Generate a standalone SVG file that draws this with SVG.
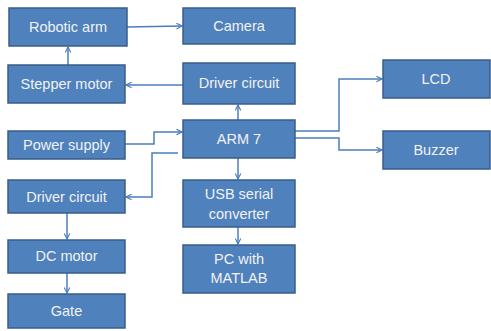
<svg xmlns="http://www.w3.org/2000/svg" width="491" height="331" viewBox="0 0 491 331">
<defs>
<style>
.box{fill:#4F81BD;stroke:#385D8A;stroke-width:1.5}
.t{font-family:"Liberation Sans",Arial,sans-serif;font-size:14.5px;fill:#F2F2F2;text-anchor:middle}
.c{fill:none;stroke:#4A7EBB;stroke-width:1.5;marker-end:url(#a)}
</style>
<marker id="a" viewBox="0 0 10 10" refX="9" refY="5" markerWidth="7" markerHeight="7" markerUnits="userSpaceOnUse" orient="auto">
<path d="M1,1 L9,5 L1,9" fill="none" stroke="#4A7EBB" stroke-width="1.6"/>
</marker>
</defs>
<rect width="491" height="331" fill="#FFFFFF"/>
<g id="connectors">
<path class="c" d="M127,27 L182,26"/>
<path class="c" d="M183,85 L126,85"/>
<path class="c" d="M68,65 L68,47"/>
<path class="c" d="M238,120 L238,105"/>
<path class="c" d="M295,131 L339,131 L339,79 L382,79"/>
<path class="c" d="M295,138 L339,138 L339,150 L382,150"/>
<path class="c" d="M125,144 L154,144 L154,132 L182,132"/>
<path class="c" d="M178,153 L152,153 L152,197 L126,197"/>
<path class="c" d="M67,213 L67,239"/>
<path class="c" d="M67,273 L67,293"/>
<path class="c" d="M238,158 L238,179"/>
<path class="c" d="M238,227 L238,244"/>
</g>
<g id="robotic-arm"><rect class="box" x="9" y="8" width="118" height="38"/><text class="t" x="68" y="32">Robotic arm</text></g>
<g id="camera"><rect class="box" x="183" y="8" width="112" height="36"/><text class="t" x="239" y="31">Camera</text></g>
<g id="stepper-motor"><rect class="box" x="8" y="65" width="117" height="38"/><text class="t" x="66.5" y="89">Stepper motor</text></g>
<g id="driver-circuit-top"><rect class="box" x="183" y="63" width="112" height="41"/><text class="t" x="239" y="88">Driver circuit</text></g>
<g id="arm7"><rect class="box" x="183" y="120" width="112" height="38"/><text class="t" x="239" y="144">ARM 7</text></g>
<g id="lcd"><rect class="box" x="383" y="60" width="107" height="38"/><text class="t" x="436" y="84">LCD</text></g>
<g id="buzzer"><rect class="box" x="383" y="131" width="107" height="38"/><text class="t" x="436" y="155">Buzzer</text></g>
<g id="power-supply"><rect class="box" x="8" y="131" width="117" height="28"/><text class="t" x="66.5" y="150">Power supply</text></g>
<g id="driver-circuit-left"><rect class="box" x="8" y="180" width="117" height="33"/><text class="t" x="66.5" y="202">Driver circuit</text></g>
<g id="dc-motor"><rect class="box" x="8" y="240" width="117" height="33"/><text class="t" x="66.5" y="261">DC motor</text></g>
<g id="gate"><rect class="box" x="8" y="294" width="117" height="34"/><text class="t" x="66.5" y="316">Gate</text></g>
<g id="usb-serial-converter"><rect class="box" x="183" y="180" width="112" height="47"/><text class="t" x="239" y="199">USB serial</text><text class="t" x="239" y="219">converter</text></g>
<g id="pc-matlab"><rect class="box" x="183" y="245" width="112" height="48"/><text class="t" x="239" y="264">PC with</text><text class="t" x="239" y="283">MATLAB</text></g>
</svg>
